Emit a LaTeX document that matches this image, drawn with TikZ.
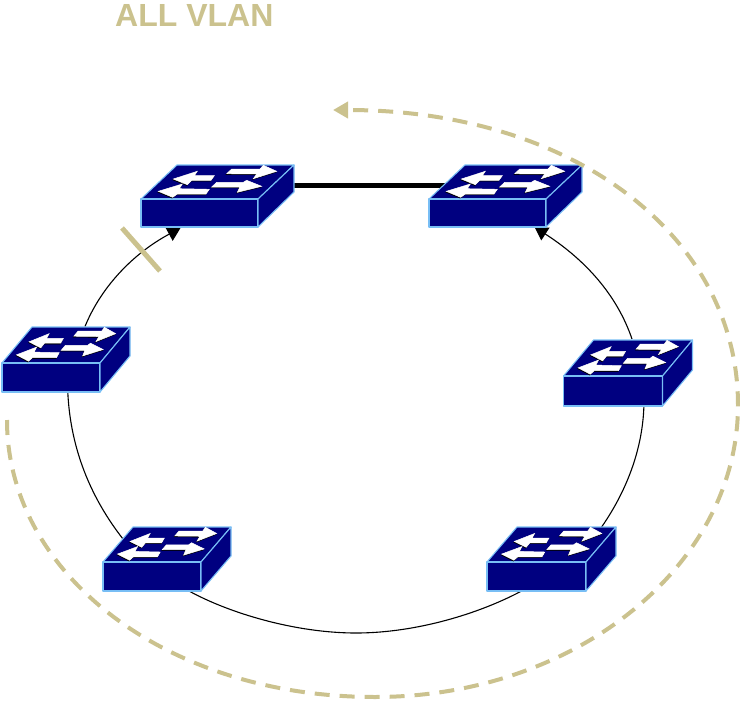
\documentclass[tikz,border=0pt]{standalone}
\usepackage{fontspec}
\setmainfont{Liberation Sans}
\usetikzlibrary{arrows.meta,backgrounds}
\definecolor{tan}{HTML}{CBC28E}
\definecolor{swblue}{HTML}{000080}
\definecolor{swedge}{HTML}{78BEF5}
\tikzset{
  swface/.style={fill=swblue,draw=swedge,line width=1.1pt,line join=round},
  swarrow/.style={fill=white,draw=white,line width=0.5pt},
  swshadow/.style={fill=black,draw=black,line width=0.5pt},
  ring/.style={draw=black,line width=1.1pt},
  ringarrow/.style={ring,-{Triangle[length=13pt,width=15pt]}},
  trunk/.style={draw=black,line width=5pt},
  flow/.style={draw=tan,line width=4pt,dash pattern=on 15pt off 10pt,-{Triangle[length=15pt,width=16pt]}},
  block/.style={draw=tan,line width=5pt},
  title/.style={text=tan,font=\fontsize{32}{32}\selectfont\bfseries,anchor=west,inner sep=0pt},
  swnode/.style={draw=none,inner sep=0pt,outer sep=0pt}
}
\newcommand{\swarrows}[1]{%
  \filldraw[#1] (32.3,-20) -- (56.3,-27.7) -- (53.3,-23.3) -- (73.3,-23.3) -- (70,-18.7) -- (50.7,-18.7) -- (46.3,-14.3) -- cycle;
  \filldraw[#1] (17.3,-7.7) -- (41.3,-15) -- (38.3,-10.3) -- (68.3,-9.7) -- (65,-5) -- (36.3,-5) -- (31.7,-1.7) -- cycle;
  \filldraw[#1] (135.7,-27.7) -- (122.3,-33.7) -- (119,-30) -- (90.7,-30) -- (85.7,-25.3) -- (115.7,-25) -- (112.3,-20.3) -- cycle;
  \filldraw[#1] (120.7,-12.7) -- (105.7,-18.7) -- (102.3,-16.7) -- (75.7,-16.7) -- (70.7,-12) -- (99,-12) -- (96.3,-6.7) -- cycle;
}
\newcommand{\switchbox}[8]{%
  % #1 name, #2 x0, #3 y top front, #4 w, #5 dx, #6 dy, #7 h front, #8 side drop
  \node[swnode,minimum width=#4pt+#5pt,minimum height=#6pt+#7pt] (#1) at ({#2+(#4+#5)/2},{#3-#6+(#6+#7)/2}) {};
  \path[swface] (#2,#3) -- ++(#5,-#6) -- ++(#4,0) -- ++(-#5,#6) -- cycle;
  \path[swface] (#2,#3) rectangle ++(#4,#7);
  \path[swface] ({#2+#4},#3) -- ++(#5,-#6) -- ++(0,#8) -- ++(-#5,{#7+#6-#8}) -- cycle;
  \begin{scope}[shift={(#2,#3)},xscale=#4/117,yscale=#6/34]
    \begin{scope}[shift={(-0.6,0.8)}]\swarrows{swshadow}\end{scope}
    \swarrows{swarrow}
  \end{scope}
}
\begin{document}
\begin{tikzpicture}[x=1pt,y=-1pt]
\useasboundingbox (0,0) rectangle (740,702);
\switchbox{sw1}{141}{199}{117}{36}{34}{28}{27}
\switchbox{sw2}{429}{199}{117}{36}{34}{28}{27}
\switchbox{sw3}{2}{363}{98}{30}{36}{29}{29}
\switchbox{sw4}{563.5}{376}{99}{30}{36}{30}{30}
\switchbox{sw5}{103}{562}{98}{30}{35}{29}{29}
\switchbox{sw6}{487}{562}{99}{30}{35}{29}{29}
\node[title] (vlan) at (115,15) {ALL VLAN};
\coordinate (ringbottom) at (356,633);
\coordinate (flowstart) at (7,420);
\coordinate (flowbottom) at (375,697);
\coordinate (flowright) at (738,405);
\coordinate (flowend) at (333,110);
\coordinate (blockA) at (122,228);
\coordinate (blockB) at (160,271);
\begin{scope}[on background layer]
  \draw[trunk] ([shift={(0,-11)}]sw1.center) -- ([shift={(0,-11)}]sw2.center);
  \draw[ringarrow] ([shift={(19,-33)}]sw3.center) .. controls ([shift={(34,-70)}]sw3.center) and ([shift={(-87,59)}]sw1.center) .. ([shift={(-37,32)}]sw1.center);
  \draw[ring] ([shift={(1.5,20)}]sw3.center) .. controls ([shift={(1.5,80)}]sw3.center) and ([shift={(-80,-64)}]sw5.center) .. ([shift={(-40,-15)}]sw5.center);
  \draw[ring] ([shift={(22,32)}]sw5.center) .. controls ([shift={(62,54)}]sw5.center) and (295,633) .. (ringbottom) .. controls (417,633) and ([shift={(-71,54)}]sw6.center) .. ([shift={(-30,32)}]sw6.center);
  \draw[ring] ([shift={(16,27)}]sw4.center) .. controls ([shift={(16,77)}]sw4.center) and ([shift={(73,-64)}]sw6.center) .. ([shift={(48,-29)}]sw6.center);
  \draw[ringarrow] ([shift={(4,-34)}]sw4.center) .. controls ([shift={(-11,-78)}]sw4.center) and ([shift={(80,64)}]sw2.center) .. ([shift={(29,31)}]sw2.center);
\end{scope}
\draw[flow] (flowstart) .. controls (7,573) and (165,697) .. (flowbottom) .. controls (575,697) and (738,566) .. (flowright) .. controls (738,238) and (576,110) .. (flowend);
\draw[block] (blockA) -- (blockB);
\end{tikzpicture}
\end{document}
